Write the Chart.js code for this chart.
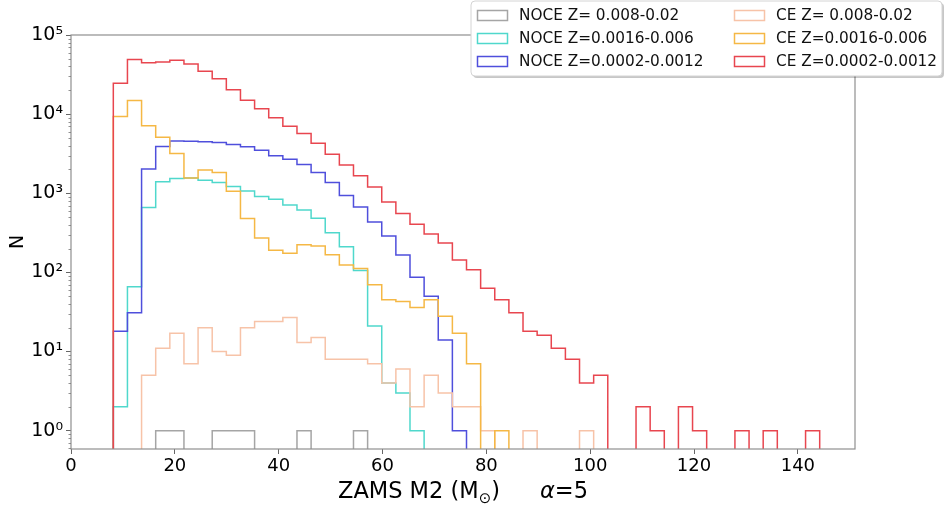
<!DOCTYPE html>
<html>
<head>
<meta charset="utf-8">
<script src="https://cdn.jsdelivr.net/npm/chart.js@4.4.0/dist/chart.umd.min.js"></script>
<style>
  html, body { margin: 0; padding: 0; background: #fff; }
  #wrap { width: 945px; height: 506px; }
</style>
</head>
<body>
<div id="wrap"><canvas id="hist" width="945" height="506"></canvas></div>
<script>
/* ===================================
   DATA
   =================================== */

// 50 equal-width bins shared by all six histograms
const BIN_START = 8.15;
const BIN_WIDTH = 2.721;
const N_BINS = 50;

// counts per bin (0 = empty bin)
const noceHighZ = [
  0, 0, 0, 1, 1, 0, 0, 1, 1, 1,
  0, 0, 0, 1, 0, 0, 0, 1, 0, 0,
  0, 0, 0, 0, 0, 0, 0, 0, 0, 0,
  0, 0, 0, 0, 0, 0, 0, 0, 0, 0,
  0, 0, 0, 0, 0, 0, 0, 0, 0, 0,
];
const noceMidZ = [
  2, 66, 660, 1400, 1535, 1560, 1460, 1365, 1215, 1070,
  908, 840, 711, 615, 483, 318, 211, 106, 21, 4,
  3, 1, 0, 0, 0, 0, 0, 0, 0, 0,
  0, 0, 0, 0, 0, 0, 0, 0, 0, 0,
  0, 0, 0, 0, 0, 0, 0, 0, 0, 0,
];
const noceLowZ = [
  18, 31, 2030, 3900, 4590, 4550, 4460, 4380, 4130, 3860,
  3500, 2970, 2690, 2310, 1830, 1365, 935, 671, 433, 288,
  166, 87, 50, 14, 1, 0, 0, 0, 0, 0,
  0, 0, 0, 0, 0, 0, 0, 0, 0, 0,
  0, 0, 0, 0, 0, 0, 0, 0, 0, 0,
];
const ceHighZ = [
  0, 0, 5, 11, 17, 7, 20, 10, 9, 20,
  24, 24, 27, 13, 15, 8, 8, 8, 7, 4,
  6, 2, 5, 3, 2, 2, 1, 0, 0, 1,
  0, 0, 0, 1, 0, 0, 0, 0, 0, 0,
  0, 0, 0, 0, 0, 0, 0, 0, 0, 0,
];
const ceMidZ = [
  9350, 14900, 7110, 5110, 3180, 1560, 1970, 1830, 1060, 478,
  272, 190, 174, 224, 215, 167, 124, 112, 70, 45,
  43, 36, 45, 28, 17, 7, 0, 1, 0, 0,
  0, 0, 0, 0, 0, 0, 0, 0, 0, 0,
  0, 0, 0, 0, 0, 0, 0, 0, 0, 0,
];
const ceLowZ = [
  24500, 49000, 44700, 45500, 47800, 43000, 34700, 28000, 20300, 15000,
  11700, 9000, 7050, 5700, 4300, 3120, 2280, 1660, 1200, 776,
  553, 405, 305, 235, 143, 108, 63, 45, 31, 18,
  16, 11, 8, 4, 5, 0, 0, 2, 1, 0,
  2, 1, 0, 0, 1, 0, 1, 0, 0, 1,
];

const seriesLabels = [
  "NOCE Z= 0.008-0.02", "NOCE Z=0.0016-0.006", "NOCE Z=0.0002-0.0012",
  "CE Z= 0.008-0.02", "CE Z=0.0016-0.006", "CE Z=0.0002-0.0012",
];
const seriesValues = [noceHighZ, noceMidZ, noceLowZ, ceHighZ, ceMidZ, ceLowZ];
const seriesColors = ["#a5a5a5", "#4fd8cc", "#4f4fdc", "#f7c3a8", "#f5b845", "#e8464f"];

const xTickValues = [0, 20, 40, 60, 80, 100, 120, 140];
const yTickValues = [1, 10, 100, 1000, 10000, 100000];
const yTickLabels = ["10⁰", "10¹", "10²", "10³", "10⁴", "10⁵"];

const X_MIN = 0, X_MAX = 151;
const Y_MIN = 0.586, Y_MAX = 100000;
const ZERO_FLOOR = 0.1; // empty bins drop below the axis, like a log step histogram

/* ===================================
   HELPERS
   =================================== */

const binEdges = Array.from({ length: N_BINS + 1 }, (_, i) => BIN_START + i * BIN_WIDTH);

// outline of a step histogram: one point per left bin edge, closed at both ends
function stepPoints(counts) {
  const pts = [{ x: binEdges[0], y: ZERO_FLOOR }];
  counts.forEach((c, i) => pts.push({ x: binEdges[i], y: c > 0 ? c : ZERO_FLOOR }));
  pts.push({ x: binEdges[N_BINS], y: ZERO_FLOOR });
  return pts;
}

const FONT = "'DejaVu Sans', sans-serif";
const SPINE = "#8f8f8f";

// frame, minor log ticks, axis titles and the two-column legend
const decorPlugin = {
  id: "decor",
  afterDatasetsDraw(chart) {
    const { ctx, chartArea: a, scales } = chart;
    ctx.save();

    // frame on all four sides
    ctx.strokeStyle = SPINE;
    ctx.lineWidth = 1.2;
    ctx.strokeRect(a.left, a.top, a.right - a.left, a.bottom - a.top);

    // minor ticks on the log axis
    ctx.strokeStyle = "#777";
    ctx.lineWidth = 0.8;
    for (let k = -1; k <= 4; k++) {
      for (let m = 2; m <= 9; m++) {
        const v = m * Math.pow(10, k);
        if (v < Y_MIN || v > Y_MAX) continue;
        const py = Math.round(scales.y.getPixelForValue(v)) + 0.5;
        ctx.beginPath();
        ctx.moveTo(a.left - 2.5, py);
        ctx.lineTo(a.left, py);
        ctx.stroke();
      }
    }

    // y title
    ctx.fillStyle = "#000";
    ctx.font = `19px ${FONT}`;
    ctx.textAlign = "center";
    ctx.textBaseline = "middle";
    ctx.save();
    ctx.translate(18, (a.top + a.bottom) / 2);
    ctx.rotate(-Math.PI / 2);
    ctx.fillText("N", 0, 0);
    ctx.restore();

    // x title: ZAMS M2 (M_sun)    alpha=5
    const parts = [
      { t: "ZAMS M2 (M", f: `22.5px ${FONT}`, dy: 0 },
      { t: "⊙", f: `15px ${FONT}`, dy: 5 },
      { t: ")", f: `22.5px ${FONT}`, dy: 0 },
      { t: "", f: `22.5px ${FONT}`, dy: 0, gap: 40 },
      { t: "α", f: `italic 22.5px ${FONT}`, dy: 0 },
      { t: "=5", f: `22.5px ${FONT}`, dy: 0 },
    ];
    ctx.textAlign = "left";
    ctx.textBaseline = "alphabetic";
    let total = 0;
    parts.forEach(p => { ctx.font = p.f; p.w = ctx.measureText(p.t).width + (p.gap || 0); total += p.w; });
    let tx = (a.left + a.right) / 2 - total / 2;
    parts.forEach(p => { ctx.font = p.f; ctx.fillText(p.t, tx, 498 + p.dy); tx += p.w; });

    // legend box
    const box = { x: 471, y: 1, w: 471, h: 75 };
    ctx.fillStyle = "rgba(0,0,0,0.22)";
    ctx.beginPath();
    ctx.roundRect(box.x + 2, box.y + 2, box.w, box.h, 4);
    ctx.fill();
    ctx.fillStyle = "#fff";
    ctx.beginPath();
    ctx.roundRect(box.x, box.y, box.w, box.h, 4);
    ctx.fill();
    ctx.strokeStyle = "#d4d4d4";
    ctx.lineWidth = 1;
    ctx.stroke();

    const rows = [15, 38, 61];
    const cols = [{ hx: 477, tx: 519 }, { hx: 734, tx: 776 }];
    ctx.font = `15.3px ${FONT}`;
    ctx.textBaseline = "middle";
    seriesLabels.forEach((label, i) => {
      const col = cols[Math.floor(i / 3)];
      const ry = rows[i % 3];
      ctx.strokeStyle = seriesColors[i];
      ctx.lineWidth = 1.5;
      ctx.strokeRect(col.hx + 0.5, ry - 5 + 0.5, 30, 10);
      ctx.fillStyle = "#111";
      ctx.fillText(label, col.tx, ry + 1);
    });

    ctx.restore();
  },
};

/* ===================================
   CHART
   =================================== */

// red on top, grey at the back: Chart.js draws dataset 0 last
const datasets = seriesLabels.map((label, i) => ({
  label,
  data: stepPoints(seriesValues[i]),
  borderColor: seriesColors[i],
  borderWidth: 1.5,
  stepped: true,
  fill: false,
  pointRadius: 0,
  tension: 0,
  clip: 0,
})).reverse();

new Chart(document.getElementById("hist").getContext("2d"), {
  type: "line",
  data: { datasets },
  options: {
    responsive: false,
    animation: false,
    events: [],
    layout: { padding: { top: 35, right: 90, left: 0, bottom: 0 } },
    plugins: {
      legend: { display: false },
      tooltip: { enabled: false },
    },
    scales: {
      x: {
        type: "linear",
        min: X_MIN,
        max: X_MAX,
        afterFit: (s) => { s.height = 57; },
        afterBuildTicks: (s) => { s.ticks = xTickValues.map(v => ({ value: v })); },
        ticks: {
          autoSkip: false,
          includeBounds: false,
          color: "#000",
          padding: 2,
          font: { family: "DejaVu Sans", size: 18 },
        },
        grid: { drawOnChartArea: false, tickLength: 5, tickColor: "#666", tickWidth: 1 },
        border: { display: false },
      },
      y: {
        type: "logarithmic",
        min: Y_MIN,
        max: Y_MAX,
        afterFit: (s) => { s.width = 71; },
        afterBuildTicks: (s) => { s.ticks = yTickValues.map(v => ({ value: v })); },
        ticks: {
          autoSkip: false,
          color: "#000",
          padding: 3,
          font: { family: "DejaVu Sans", size: 19 },
          callback: (v) => {
            const i = yTickValues.indexOf(v);
            return i >= 0 ? yTickLabels[i] : "";
          },
        },
        grid: { drawOnChartArea: false, tickLength: 5, tickColor: "#666", tickWidth: 1 },
        border: { display: false },
      },
    },
  },
  plugins: [decorPlugin],
});
</script>
</body>
</html>
